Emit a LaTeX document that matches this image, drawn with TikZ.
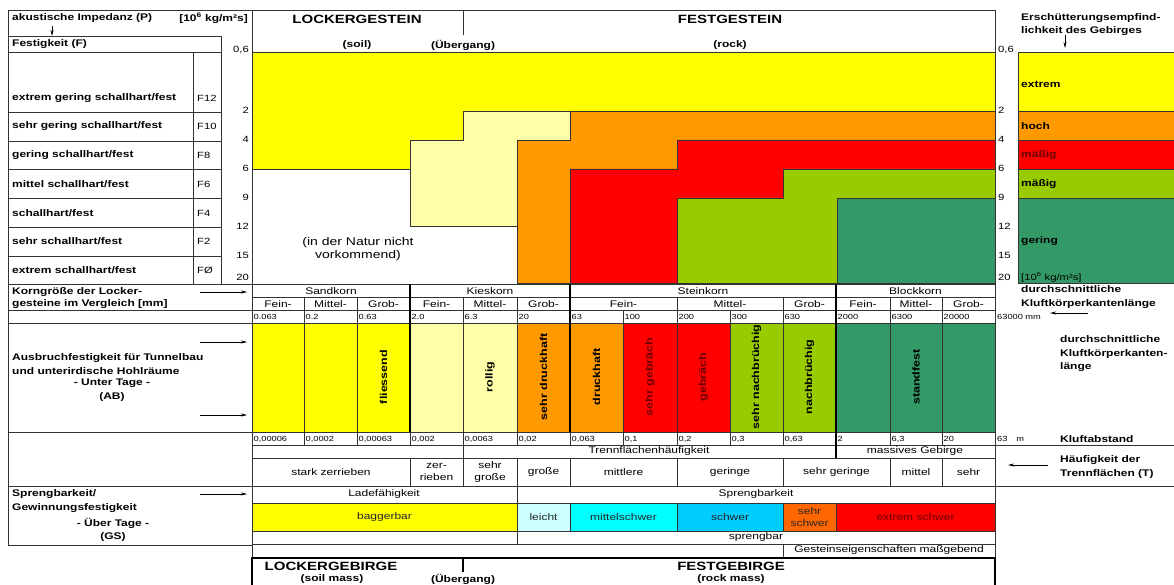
\documentclass[tikz,border=0pt]{standalone}
\usepackage{fontspec}
\setmainfont{Liberation Sans}[FakeStretch=1.25]
\usetikzlibrary{arrows.meta}
\definecolor{cY}{HTML}{FFFF00}
\definecolor{cPY}{HTML}{FFFFAA}
\definecolor{cO}{HTML}{FF9900}
\definecolor{cR}{HTML}{FF0000}
\definecolor{cL}{HTML}{99CC00}
\definecolor{cG}{HTML}{339966}
\definecolor{cLC}{HTML}{CCFFFF}
\definecolor{cC}{HTML}{00FFFF}
\definecolor{cB}{HTML}{00CCFF}
\definecolor{cOO}{HTML}{FF6600}
\definecolor{ln}{HTML}{333333}
\definecolor{dred}{HTML}{6A0000}
\tikzset{
 grid/.style={draw=ln,line width=0.5pt},
 thk/.style={draw=black,line width=1.3pt},
 tx/.style={font=\fontsize{9.6}{11}\selectfont,inner sep=0pt,align=center},
 sm/.style={font=\fontsize{7.4}{8}\selectfont,inner sep=0pt,anchor=west},
 bl/.style={font=\fontsize{9.6}{13.5}\selectfont\bfseries,inner sep=0pt,anchor=west,align=left},
 blc/.style={font=\fontsize{9.6}{13.5}\selectfont\bfseries,inner sep=0pt,align=center},
 rt/.style={font=\fontsize{10}{11}\selectfont\bfseries,inner sep=0pt,rotate=90},
 hd/.style={font=\fontsize{12}{13}\selectfont\bfseries,inner sep=0pt},
 scl/.style={font=\fontsize{9}{10}\selectfont,inner sep=0pt},
 arr/.style={-{Stealth[length=6pt,width=3pt]},line width=0.5pt},
}
\begin{document}
\begin{tikzpicture}[x=1pt,y=-1pt]
\useasboundingbox (0,0) rectangle (1174,585);
\fill[white] (0,0) rectangle (1174,585);

% ---------- chart ----------
\filldraw[grid,fill=cY] (252,52)--(995,52)--(995,111)--(463,111)--(463,140)--(410,140)--(410,169)--(252,169)--cycle;
\filldraw[grid,fill=cPY] (463,111)--(570,111)--(570,140)--(517,140)--(517,226)--(410,226)--(410,140)--(463,140)--cycle;
\filldraw[grid,fill=cO] (570,111)--(995,111)--(995,140)--(677,140)--(677,169)--(570,169)--(570,283)--(517,283)--(517,140)--(570,140)--cycle;
\filldraw[grid,fill=cR] (677,140)--(995,140)--(995,169)--(783,169)--(783,198)--(677,198)--(677,283)--(570,283)--(570,169)--(677,169)--cycle;
\filldraw[grid,fill=cL] (783,169)--(995,169)--(995,198)--(837,198)--(837,283)--(677,283)--(677,198)--(783,198)--cycle;
\filldraw[grid,fill=cG] (837,198) rectangle (995,283);
\node[tx,font=\fontsize{11.2}{13}\selectfont] (natur) at (358,249) {(in der Natur nicht\\vorkommend)};

% right column
\filldraw[grid,fill=cY] (1018,52) rectangle (1180,111);
\filldraw[grid,fill=cO] (1018,111) rectangle (1180,140);
\filldraw[grid,fill=cR] (1018,140) rectangle (1180,169);
\filldraw[grid,fill=cL] (1018,169) rectangle (1180,198);
\filldraw[grid,fill=cG] (1018,198) rectangle (1180,283);
\node[bl] (e1) at (1021,84) {extrem};
\node[bl] (e2) at (1021,126) {hoch};
\node[bl,text=dred] (e3) at (1021,155) {mäßig};
\node[bl] (e4) at (1021,184) {mäßig};
\node[bl] (e5) at (1021,241) {gering};
\node[scl,anchor=west] (e6) at (1021,277) {[10\textsuperscript{6} kg/m²s]};

% scales
\foreach \y/\t [count=\i] in {50/{0,6},110/2,139/4,168/6,197/9,226/12,255/15,277/20}{
  \node[scl,anchor=east] (sl\i) at (249,\y) {\t};
  \node[scl,anchor=west] (sr\i) at (998,\y) {\t};
}

% ---------- header ----------
\draw[grid] (8,10)--(995,10);
\draw[grid] (463,10)--(463,35);
\draw[grid] (252,10)--(252,557);
\draw[grid] (995,10)--(995,557);
\node[hd] (lockh) at (357,19) {LOCKERGESTEIN};
\node[hd] (festh) at (730,19) {FESTGESTEIN};
\node[blc] (soil) at (357,45) {(soil)};
\node[blc] (ueb) at (463,45) {(Übergang)};
\node[blc] (rock) at (730,45) {(rock)};
\node[bl,font=\fontsize{9.6}{13}\selectfont\bfseries] (ersch) at (1021,25) {Erschütterungsempfind-\\lichkeit des Gebirges};
\coordinate (ea1) at (1065,35); \coordinate (ea2) at (1065,48);
\draw[arr] (ea1)--(ea2);

% ---------- left panel ----------
\draw[grid] (8,10)--(8,545);
\node[bl] (aku) at (12,18) {akustische Impedanz (P)};
\node[bl,anchor=east] (akuu) at (248,18) {[10\textsuperscript{6} kg/m²s]};
\coordinate (aa1) at (52,26); \coordinate (aa2) at (52,36);
\draw[arr] (aa1)--(aa2);
\draw[grid] (8,36) rectangle (221,52);
\node[bl] (fest) at (12,44) {Festigkeit (F)};
\draw[grid] (8,52) rectangle (221,284);
\draw[grid] (193,52)--(193,284);
\foreach \y in {112,141,169,198,227,256}{\draw[grid] (8,\y)--(221,\y);}
\foreach \y/\t/\f [count=\i] in {98/extrem gering schallhart\slash fest/F12,126/sehr gering schallhart\slash fest/F10,155/gering schallhart\slash fest/F8,184/mittel schallhart\slash fest/F6,213/schallhart\slash fest/F4,241/sehr schallhart\slash fest/F2,270/extrem schallhart\slash fest/FØ}{
  \node[bl] (fl\i) at (12,\y) {\t};
  \node[scl,anchor=west] (fc\i) at (197,\y) {\f};
}
\draw[grid] (8,284)--(995,284);
\draw[grid] (8,310)--(252,310);
\node[bl,font=\fontsize{9.6}{12}\selectfont\bfseries] (korn) at (12,298) {Korngröße der Locker-\\gesteine im Vergleich [mm]};
\coordinate (ka1) at (200,292); \coordinate (ka2) at (247,292);
\draw[arr] (ka1)--(ka2);
\draw[grid] (8,323)--(252,323);
\draw[grid] (8,432)--(252,432);
\node[bl] (ausb1) at (12,364) {Ausbruchfestigkeit für Tunnelbau\\und unterirdische Hohlräume};
\node[blc] (ausb2) at (112,390) {- Unter Tage -\\(AB)};
\coordinate (ab1) at (200,342); \coordinate (ab2) at (247,342);
\coordinate (ab3) at (200,415); \coordinate (ab4) at (247,415);
\draw[arr] (ab1)--(ab2);
\draw[arr] (ab3)--(ab4);
\draw[grid] (8,486)--(1174,486);
\draw[grid] (8,545)--(252,545);
\node[bl] (spr1) at (12,501) {Sprengbarkeit/\\Gewinnungsfestigkeit};
\node[blc] (spr2) at (113,530) {- Über Tage -\\(GS)};
\coordinate (sa1) at (200,494); \coordinate (sa2) at (247,494);
\draw[arr] (sa1)--(sa2);

% ---------- grain size ----------
\foreach \a/\b/\t [count=\i] in {252/410/Sandkorn,410/570/Kieskorn,570/836/Steinkorn,836/995/Blockkorn}{
  \draw[grid] (\a,284) rectangle (\b,297);
  \node[tx] (gk\i) at ({(\a+\b)/2},291) {\t};
}
\foreach \a/\b/\t [count=\i] in {252/304/Fein-,304/357/Mittel-,357/410/Grob-,410/463/Fein-,463/517/Mittel-,517/570/Grob-,570/677/Fein-,677/783/Mittel-,783/836/Grob-,836/890/Fein-,890/942/Mittel-,942/995/Grob-}{
  \draw[grid] (\a,297) rectangle (\b,310);
  \node[tx] (gs\i) at ({(\a+\b)/2},304) {\t};
}
\foreach \a/\b/\t [count=\i] in {252/304/0.063,304/357/0.2,357/410/0.63,410/463/2.0,463/517/6.3,517/570/20,570/623/63,623/677/100,677/730/200,730/783/300,783/836/630,836/890/2000,890/942/6300,942/995/20000}{
  \draw[grid] (\a,310) rectangle (\b,323);
  \node[sm] (gv\i) at (\a+1.5,317) {\t};
}
\node[sm] (gv15) at (997,317) {63000 mm};
\coordinate (ma1) at (1088,313); \coordinate (ma2) at (1050,313);
\draw[arr] (ma1)--(ma2);
\node[bl] (dk1) at (1021,297) {durchschnittliche\\Kluftkörperkantenlänge};

% ---------- tunnel ----------
\foreach \a/\b/\c/\t/\k [count=\i] in {252/304/cY//black,304/357/cY//black,357/410/cY/fliessend/black,410/463/cPY//black,463/517/cPY/rollig/black,517/570/cO/sehr druckhaft/black,570/623/cO/druckhaft/black,623/677/cR/sehr gebräch/dred,677/730/cR/gebräch/dred,730/783/cL/sehr nachbrüchig/black,783/836/cL/nachbrüchig/black,836/890/cG//black,890/942/cG/standfest/black,942/995/cG//black}{
  \filldraw[grid,fill=\c] (\a,323) rectangle (\b,432);
  \node[rt,text=\k] (tu\i) at ({(\a+\b)/2},377) {\t};
}
\node[bl] (dk2) at (1060,354) {durchschnittliche\\Kluftkörperkanten-\\länge};

% ---------- Kluftabstand ----------
\foreach \a/\b/\t [count=\i] in {252/304/{0,00006},304/357/{0,0002},357/410/{0,00063},410/463/{0,002},463/517/{0,0063},517/570/{0,02},570/623/{0,063},623/677/{0,1},677/730/{0,2},730/783/{0,3},783/836/{0,63},836/890/2,890/942/{6,3},942/995/20}{
  \draw[grid] (\a,432) rectangle (\b,445);
  \node[sm] (kv\i) at (\a+1.5,439) {\t};
}
\node[sm] (kv15) at (997,439) {63\hspace{9pt}m};
\node[bl] (kluft) at (1060,439) {Kluftabstand};
\draw[grid] (995,445)--(1174,445);

% Trennflaechen
\draw[grid] (252,445) rectangle (463,458);
\draw[grid] (463,445) rectangle (836,458);
\draw[grid] (836,445) rectangle (995,458);
\node[tx] (tf1) at (649,451.5) {Trennflächenhäufigkeit};
\node[tx] (tf2) at (915,451.5) {massives Gebirge};
\foreach \a/\b/\t [count=\i] in {252/410/stark zerrieben,410/463/{zer-\\rieben},463/517/{sehr\\große},517/570/große,570/677/mittlere,677/783/geringe,783/890/sehr geringe,890/942/mittel,942/995/sehr}{
  \draw[grid] (\a,458) rectangle (\b,486);
  \node[tx,font=\fontsize{9.6}{11.5}\selectfont] (hf\i) at ({(\a+\b)/2},472) {\t};
}
\node[bl] (hauf) at (1060,467) {Häufigkeit der\\Trennflächen (T)};
\coordinate (ha1) at (1048,465); \coordinate (ha2) at (1008,465);
\draw[arr] (ha1)--(ha2);

% Sprengbarkeit
\draw[grid] (252,486) rectangle (517,503);
\draw[grid] (517,486) rectangle (995,503);
\node[tx] (lf) at (384,494.5) {Ladefähigkeit};
\node[tx] (sb) at (756,494.5) {Sprengbarkeit};
\foreach \a/\b/\c/\t/\k [count=\i] in {252/517/cY/baggerbar/black!85,517/570/cLC/leicht/black!85,570/677/cC/mittelschwer/black!85,677/783/cB/schwer/black!85,783/836/cOO/{sehr\\schwer}/black!85,836/995/cR/extrem schwer/dred}{
  \filldraw[grid,fill=\c] (\a,503) rectangle (\b,531);
  \node[tx,font=\fontsize{9.6}{11.5}\selectfont,text=\k] (sc\i) at ({(\a+\b)/2},517) {\t};
}
\draw[grid] (252,531) rectangle (517,544);
\draw[grid] (517,531) rectangle (995,544);
\node[tx] (spb) at (756,537.5) {sprengbar};
\draw[grid] (252,544) rectangle (783,557);
\draw[grid] (783,544) rectangle (995,557);
\node[tx] (gem) at (889,550.5) {Gesteinseigenschaften maßgebend};

% thick dividers
\foreach \x in {410,570,836}{\draw[thk] (\x,284)--(\x,323);}
\draw[thk] (410,323)--(410,432);
\draw[thk] (570,323)--(570,432);
\draw[thk] (836,323)--(836,445);
\draw[thk] (836,445)--(836,458);

% bottom box
\draw[thk] (252,590)--(252,558)--(995,558)--(995,590);
\draw[thk] (463,558)--(463,572);
\node[hd] (lgb) at (331,566) {LOCKERGEBIRGE};
\node[blc] (sm2) at (332,579) {(soil mass)};
\node[blc] (ueb2) at (463,579) {(Übergang)};
\node[hd] (fgb) at (731,566) {FESTGEBIRGE};
\node[blc] (rm2) at (731,579) {(rock mass)};
\end{tikzpicture}
\end{document}
